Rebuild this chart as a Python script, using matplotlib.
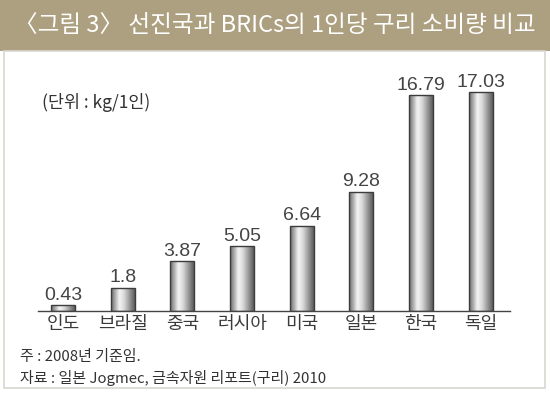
import matplotlib
matplotlib.use("Agg")
import matplotlib.pyplot as plt
import numpy as np
from matplotlib.colors import LinearSegmentedColormap
from matplotlib.patches import Rectangle

plt.rcParams['font.family'] = ['Noto Sans CJK KR', 'DejaVu Sans']

categories = ['인도', '브라질', '중국', '러시아', '미국', '일본', '한국', '독일']
values = [0.43, 1.8, 3.87, 5.05, 6.64, 9.28, 16.79, 17.03]
value_labels = ['0.43', '1.8', '3.87', '5.05', '6.64', '9.28', '16.79', '17.03']
title = '〈그림 3〉 선진국과 BRICs의 1인당 구리 소비량 비교'
unit_text = '(단위 : kg/1인)'
note_text = '주 : 2008년 기준임.'
source_text = '자료 : 일본 Jogmec, 금속자원 리포트(구리) 2010'

W, H = 550, 394
fig = plt.figure(figsize=(W / 100, H / 100), dpi=100)
fig.patch.set_facecolor('white')

# title bar
fig.patches.append(Rectangle((0, 1 - 51 / H), 1, 51 / H, transform=fig.transFigure,
                             facecolor='#ada080', edgecolor='none', zorder=0))
# panel border
fig.patches.append(Rectangle((4 / W, 6 / H), 541 / W, (H - 51 - 6) / H, transform=fig.transFigure,
                             facecolor='white', edgecolor='#d8d8d0', linewidth=1.2, zorder=0))
fig.text(W / 2 / W, 1 - 26 / H, title, color='white', fontsize=17, va='center', ha='center',
         fontweight='medium')

ax = fig.add_axes([38 / W, 83 / H, 472 / W, 257 / H])
ax.set_zorder(2)
ax.set_facecolor('none')
ax.set_xlim(-0.42, 7.49)
ax.set_ylim(0, 20)
for s in ['top', 'right', 'left']:
    ax.spines[s].set_visible(False)
ax.spines['bottom'].set_color('#444444')
ax.spines['bottom'].set_linewidth(1.0)
ax.set_yticks([])
ax.set_xticks(range(len(categories)))
ax.set_xticklabels(categories, fontsize=13, color='#3a3a3a')
ax.tick_params(axis='x', length=0, pad=3)

cmap = LinearSegmentedColormap.from_list('metal', [
    (0.0, '#6a6a6a'), (0.35, '#f4f4f4'), (0.55, '#d8d8d8'), (1.0, '#5c5c5c')])
grad = np.linspace(0, 1, 64).reshape(1, -1)
bw = 0.4
bars = ax.bar(range(len(values)), values, width=bw, facecolor='none',
              edgecolor='#3c3c3c', linewidth=1.0, zorder=3)
for b in bars:
    x0 = b.get_x()
    h = b.get_height()
    im = ax.imshow(grad, cmap=cmap, aspect='auto', extent=(x0, x0 + bw, 0, h),
                   zorder=2, interpolation='bicubic')
    im.set_clip_path(b)
for i, (v, lab) in enumerate(zip(values, value_labels)):
    ax.text(i, v + 0.12, lab, ha='center', va='bottom', fontsize=14, color='#444444',
            family=['Liberation Sans', 'DejaVu Sans'])
ax.set_xlim(-0.42, 7.49)
ax.set_ylim(0, 20)

fig.text(42 / W, 1 - 103 / H, unit_text, fontsize=12.5, color='#333333', va='center', ha='left')
fig.text(20 / W, 1 - 357 / H, note_text, fontsize=10.8, color='#333333', va='center', ha='left')
fig.text(20 / W, 1 - 378 / H, source_text, fontsize=10.8, color='#333333', va='center', ha='left')

fig.savefig('out.png', dpi=100, facecolor=fig.get_facecolor())
